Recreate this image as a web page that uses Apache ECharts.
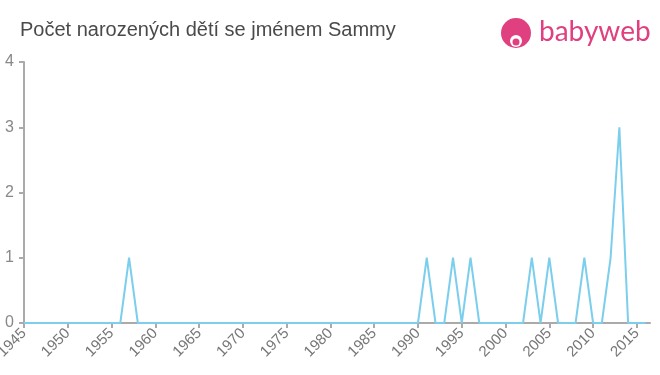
<!DOCTYPE html>
<html><head><meta charset="utf-8">
<script src="https://cdn.jsdelivr.net/npm/echarts@6/dist/echarts.min.js"></script>
<style>html,body{margin:0;padding:0;background:#fff}#c{width:660px;height:375px}</style>
</head><body><div id="c"></div>
<script>
const titleText = "Počet narozených dětí se jménem Sammy";
const years = [];
for (let y = 1945; y <= 2016; y++) years.push(y);
const nonZero = {1957:1, 1991:1, 1994:1, 1996:1, 2003:1, 2005:1, 2009:1, 2012:1, 2013:3};
const counts = years.map(y => nonZero[y] || 0);
const yTicks = [0, 1, 2, 3, 4];

const chart = echarts.init(document.getElementById('c'));
chart.setOption({
  animation: false,
  title: {
    text: titleText, left: 15, top: 15,
    textStyle: {fontFamily: 'Liberation Sans, Arial, sans-serif', fontSize: 20, fontWeight: 'normal', color: '#4a4a4a'}
  },
  grid: {left: 24, right: 10, top: 62, bottom: 52, containLabel: false, outerBoundsMode: 'none'},
  xAxis: {
    type: 'value', min: 1945, max: 2016.5, interval: 5,
    axisLine: {show: true, lineStyle: {color: '#aaa', width: 2}},
    axisTick: {show: true, length: 5, lineStyle: {color: '#aaa', width: 2}},
    axisLabel: {showMaxLabel: false, rotate: 45, color: '#777', fontSize: 15, margin: 8,
      fontFamily: 'Liberation Sans, Arial, sans-serif', formatter: v => String(v)},
    splitLine: {show: false}
  },
  yAxis: {
    type: 'value', min: yTicks[0], max: yTicks[yTicks.length-1], interval: 1,
    axisLine: {show: true, lineStyle: {color: '#aaa', width: 2}},
    axisTick: {show: true, length: 5, lineStyle: {color: '#aaa', width: 2}},
    axisLabel: {color: '#888', fontSize: 16, margin: 10, fontFamily: 'Liberation Sans, Arial, sans-serif'},
    splitLine: {show: false}
  },
  series: [{
    type: 'line', data: years.map((y, i) => [y, counts[i]]),
    symbol: 'none', lineStyle: {color: '#7ccfec', width: 2}, z: 3
  }],
  graphic: [
    {type: 'circle', shape: {cx: 516, cy: 33, r: 15}, style: {fill: '#e0407f'}},
    {type: 'circle', shape: {cx: 516, cy: 41, r: 6}, style: {fill: '#fff'}},
    {type: 'circle', shape: {cx: 516, cy: 42, r: 3.5}, style: {fill: '#e0407f'}},
    {type: 'text', left: 539, top: 18,
      style: {text: 'babyweb', fill: '#e0407f', fontSize: 28, fontFamily: 'Lato, Arial, sans-serif'}}
  ]
});
</script></body></html>
